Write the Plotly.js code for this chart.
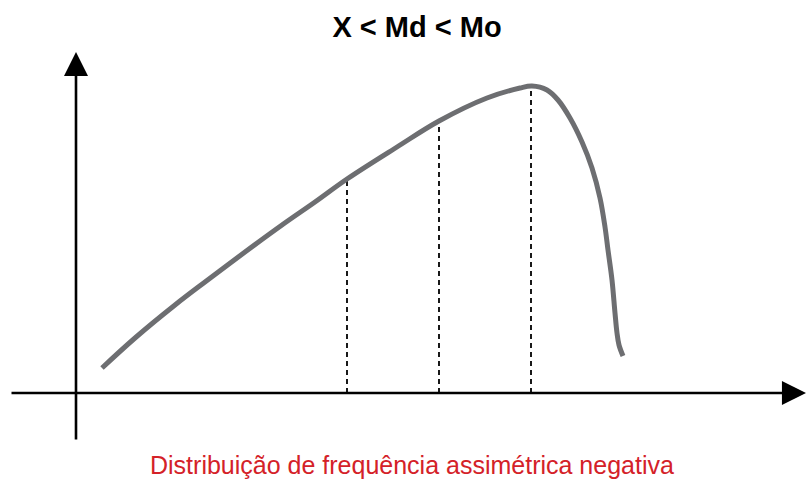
<!DOCTYPE html>
<html>
<head>
<meta charset="utf-8">
<script src="https://cdn.plot.ly/plotly-3.0.1.min.js"></script>
<style>
  html, body { margin: 0; padding: 0; background: #ffffff; }
  #chart { width: 806px; height: 481px; }
</style>
</head>
<body>
<div id="chart"></div>
<script>
// Curve (x to the right of the vertical axis, y above the horizontal axis)
var curveX = [26, 59, 99, 129, 169, 206, 239, 271, 321, 363, 411, 444, 456, 471, 482, 494, 506, 516, 524, 529, 532, 536, 539, 541, 543, 547];
var curveY = [25, 55, 88, 111, 141, 168, 191, 214, 246, 272, 295, 305, 307, 303, 293, 275, 251, 225, 195, 166, 143, 113, 80, 60, 48, 37];

// Mean, median and mode positions (dashed drop lines)
var statNames = ['Média', 'Mediana', 'Moda'];
var statX = [271, 363, 455];
var statY = [214, 272, 307];

var titleText = 'X < Md < Mo';
var captionText = 'Distribuição de frequência assimétrica negativa';

var traces = [];
for (var i = 0; i < statX.length; i++) {
  traces.push({
    type: 'scatter', mode: 'lines', name: statNames[i],
    x: [statX[i], statX[i]], y: [0, statY[i]],
    line: { color: '#000000', width: 1.8, dash: '5px,4px' },
    hoverinfo: 'skip', showlegend: false
  });
}
traces.push({
  type: 'scatter', mode: 'lines', name: 'curva',
  x: curveX, y: curveY,
  line: { color: '#6d6e71', width: 5, shape: 'spline', smoothing: 1 },
  hoverinfo: 'skip', showlegend: false
});

var layout = {
  width: 806, height: 481,
  margin: { l: 0, r: 0, t: 0, b: 0, pad: 0 },
  paper_bgcolor: '#ffffff', plot_bgcolor: '#ffffff',
  showlegend: false,
  xaxis: { range: [-76, 730], visible: false, fixedrange: true },
  yaxis: { range: [-88, 393], visible: false, fixedrange: true },
  title: {
    text: '<b>' + titleText.replace(/</g, '&lt;') + '</b>',
    font: { family: 'Liberation Sans, Arial, sans-serif', size: 29, color: '#000000' },
    x: 417 / 806, xanchor: 'center', xref: 'container',
    y: 1 - 27 / 481, yanchor: 'middle', yref: 'container'
  },
  annotations: [
    { // horizontal axis with arrow
      x: 730, y: 0, ax: -66, ay: 0, xref: 'x', yref: 'y', axref: 'x', ayref: 'y',
      text: '', showarrow: true, arrowhead: 2, arrowsize: 1.85, arrowwidth: 2.6,
      arrowcolor: '#000000', standoff: 0
    },
    { // vertical axis with arrow
      x: 0, y: 341, ax: 0, ay: -48, xref: 'x', yref: 'y', axref: 'x', ayref: 'y',
      text: '', showarrow: true, arrowhead: 2, arrowsize: 1.85, arrowwidth: 2.6,
      arrowcolor: '#000000', standoff: 0
    },
    {
      text: captionText, showarrow: false,
      xref: 'paper', yref: 'paper', x: 412 / 806, y: 1 - 465 / 481,
      xanchor: 'center', yanchor: 'middle',
      font: { family: 'Liberation Sans, Arial, sans-serif', size: 25, color: '#d42128' }
    }
  ]
};

Plotly.newPlot('chart', traces, layout, { displayModeBar: false, staticPlot: true });
</script>
</body>
</html>
